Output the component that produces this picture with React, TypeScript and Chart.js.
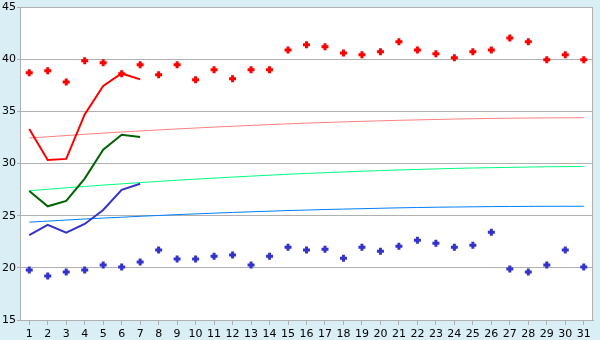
import React, { useEffect, useRef } from 'react';
import { Chart, registerables } from 'chart.js';

Chart.register(...registerables);

const days = ['1','2','3','4','5','6','7','8','9','10','11','12','13','14','15','16','17','18','19','20','21','22','23','24','25','26','27','28','29','30','31'];

const maxTemps = [38.7, 38.9, 37.8, 39.84, 39.65, 38.6, 39.46, 38.5, 39.46, 38.03, 38.98, 38.12, 38.98, 38.98, 40.89, 41.37, 41.18, 40.6, 40.42, 40.7, 41.66, 40.89, 40.51, 40.13, 40.7, 40.89, 42.04, 41.66, 39.94, 40.42, 39.94];
const minTemps = [19.79, 19.21, 19.6, 19.79, 20.26, 20.07, 20.55, 21.7, 20.84, 20.84, 21.12, 21.22, 20.26, 21.12, 21.98, 21.7, 21.79, 20.93, 21.98, 21.6, 22.08, 22.65, 22.36, 21.98, 22.17, 23.42, 19.88, 19.6, 20.26, 21.7, 20.07];

const maxRecent = [33.3, 30.34, 30.44, 34.7, 37.43, 38.63, 38.06];
const meanRecent = [27.36, 25.9, 26.41, 28.55, 31.33, 32.76, 32.55];
const minRecent = [23.14, 24.12, 23.36, 24.2, 25.55, 27.48, 28.06];

const maxNormal = [32.44, 32.56, 32.68, 32.8, 32.91, 33.02, 33.12, 33.22, 33.31, 33.4, 33.49, 33.57, 33.65, 33.73, 33.8, 33.87, 33.93, 33.99, 34.04, 34.09, 34.14, 34.18, 34.22, 34.26, 34.29, 34.32, 34.34, 34.36, 34.37, 34.38, 34.39];
const meanNormal = [27.39, 27.53, 27.67, 27.8, 27.93, 28.05, 28.17, 28.28, 28.4, 28.5, 28.6, 28.7, 28.79, 28.88, 28.97, 29.05, 29.12, 29.19, 29.26, 29.32, 29.38, 29.43, 29.48, 29.53, 29.57, 29.6, 29.63, 29.66, 29.69, 29.7, 29.72];
const minNormal = [24.38, 24.48, 24.58, 24.68, 24.77, 24.85, 24.94, 25.02, 25.1, 25.17, 25.24, 25.31, 25.37, 25.43, 25.49, 25.54, 25.59, 25.63, 25.67, 25.71, 25.75, 25.78, 25.81, 25.83, 25.85, 25.87, 25.88, 25.89, 25.9, 25.9, 25.9];

const GRID = '#b0b0b0';
const FONT = { family: 'DejaVu Sans', size: 11 };

const framePlugin = {
  id: 'frame',
  beforeDraw(chart: any) {
    const { ctx, chartArea } = chart;
    ctx.save();
    ctx.fillStyle = '#ffffff';
    ctx.fillRect(chartArea.left, chartArea.top, chartArea.right - chartArea.left, chartArea.bottom - chartArea.top);
    ctx.restore();
  },
  beforeDatasetsDraw(chart: any) {
    const { ctx, chartArea } = chart;
    ctx.save();
    ctx.strokeStyle = GRID;
    ctx.lineWidth = 1;
    ctx.beginPath();
    ctx.moveTo(Math.round(chartArea.right) - 0.5, chartArea.top);
    ctx.lineTo(Math.round(chartArea.right) - 0.5, chartArea.bottom);
    ctx.stroke();
    ctx.restore();
  },
};

export default function App() {
  const ref = useRef<HTMLCanvasElement | null>(null);

  useEffect(() => {
    if (!ref.current) return;
    const lineDs = (data: number[], color: string, width: number, order: number) => ({
      type: 'line' as const,
      data,
      borderColor: color,
      backgroundColor: color,
      borderWidth: width,
      pointRadius: 0,
      tension: 0,
      fill: false,
      order,
    });
    const pointDs = (data: number[], color: string) => ({
      type: 'line' as const,
      data,
      showLine: false,
      borderColor: color,
      backgroundColor: color,
      pointStyle: 'cross',
      pointRadius: 3.5,
      pointBorderWidth: 3,
      order: 1,
    });
    const chart = new Chart(ref.current, {
      type: 'line',
      data: {
        labels: days,
        datasets: [
          pointDs(maxTemps, '#ff0000'),
          pointDs(minTemps, '#3333cc'),
          lineDs(maxRecent, '#ff0000', 2, 2),
          lineDs(meanRecent, '#006400', 2, 2),
          lineDs(minRecent, '#3333cc', 2, 2),
          lineDs(maxNormal, '#ff8080', 1, 3),
          lineDs(meanNormal, '#00ff80', 1, 3),
          lineDs(minNormal, '#0080ff', 1, 3),
        ] as any,
      },
      options: {
        animation: false,
        responsive: false,
        maintainAspectRatio: false,
        layout: { padding: { top: 5, right: 5, left: 0, bottom: 0 } },
        plugins: { legend: { display: false }, tooltip: { enabled: false } },
        scales: {
          x: {
            type: 'category',
            offset: true,
            grid: { drawOnChartArea: false, drawTicks: true, tickLength: 5, color: GRID, offset: false },
            border: { color: GRID },
            ticks: { font: FONT, color: '#000', padding: 3, autoSkip: false, maxRotation: 0 },
            afterFit: (s: any) => { s.height = 20; s.paddingLeft = 0; s.paddingRight = 0; },
          },
          y: {
            min: 15,
            max: 45,
            grid: { color: GRID, tickLength: 3 },
            border: { color: GRID },
            ticks: { stepSize: 5, font: FONT, color: '#000', padding: 1 },
            afterFit: (s: any) => { s.width = 20; s.paddingTop = 0; s.paddingBottom = 0; },
          },
        },
      } as any,
      plugins: [framePlugin],
    });
    return () => chart.destroy();
  }, []);

  return (
    <div style={{ position: 'fixed', left: 0, top: 0, width: 600, height: 340, background: '#d9eef5' }}>
      <canvas ref={ref} width={600} height={340} style={{ display: 'block', width: 600, height: 340 }} />
    </div>
  );
}
